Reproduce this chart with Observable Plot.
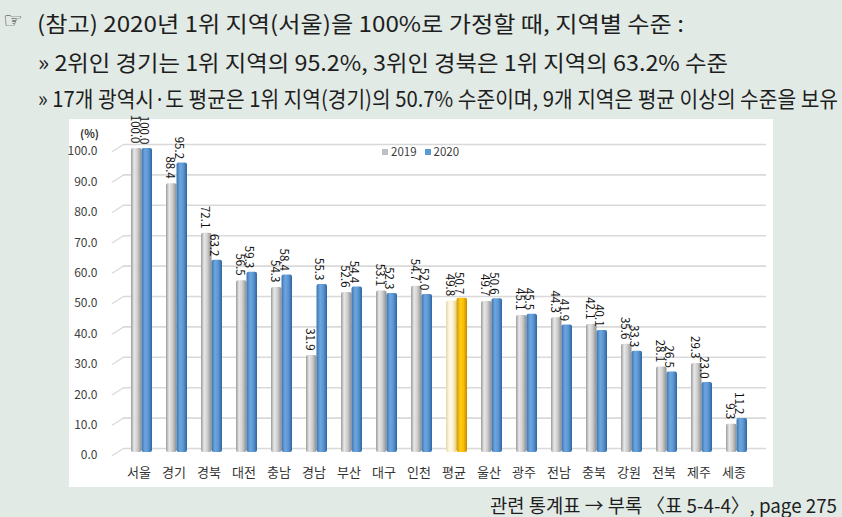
<!DOCTYPE html>
<html><head><meta charset="utf-8">
<script src="https://cdn.jsdelivr.net/npm/d3@7"></script>
<script src="https://cdn.jsdelivr.net/npm/@observablehq/plot@0.6"></script>
<style>
html,body{margin:0;padding:0;}
body{background:#e2eae5;width:842px;height:517px;overflow:hidden;position:relative;font-family:"Noto Sans CJK KR","Noto Sans",sans-serif;}
.line{position:absolute;white-space:nowrap;font-size:22px;line-height:26px;height:26px;color:#1e1e1e;transform-origin:0 50%;}
.hand{position:absolute;left:3px;top:8px;font-family:"DejaVu Sans";font-size:22px;line-height:26px;color:#333;}
#panel{position:absolute;left:69px;top:119px;width:704px;height:368px;background:#fff;}
#chart{position:absolute;left:0;top:0;}
#legend{position:absolute;left:382px;top:143px;font-size:11.5px;line-height:16px;color:#404040;white-space:nowrap;}
#legend span.sw{display:inline-block;width:6px;height:6px;margin-right:3px;vertical-align:1px;}
#legend span.item{margin-right:8px;}
</style></head>
<body>
<div class="hand">☞</div>
<div class="line" id="l1" data-x0="37" data-x1="684" style="left:37px;top:9px;">(참고) 2020년 1위 지역(서울)을 100%로 가정할 때, 지역별 수준 :</div>
<div class="line" id="l2" data-x0="38" data-x1="728" style="left:38px;top:48px;">» 2위인 경기는 1위 지역의 95.2%, 3위인 경북은 1위 지역의 63.2% 수준</div>
<div class="line" id="l3" data-x0="38" data-x1="838" style="left:38px;top:84px;">» 17개 광역시·도 평균은 1위 지역(경기)의 50.7% 수준이며, 9개 지역은 평균 이상의 수준을 보유</div>
<div id="panel"><div id="chart"></div></div>
<div id="legend"></div>
<div class="line" id="foot" data-x0="490" data-x1="837" style="left:490px;top:492px;font-size:19px;">관련 통계표 → 부록 〈표 5-4-4〉, page 275</div>
<script>
const regions = ["서울","경기","경북","대전","충남","경남","부산","대구","인천","평균","울산","광주","전남","충북","강원","전북","제주","세종"];
const values2019 = [100.0,88.4,72.1,56.5,54.3,31.9,52.6,53.1,54.7,49.8,49.7,45.1,44.3,42.1,35.6,28.1,29.3,9.3];
const values2020 = [100.0,95.2,63.2,59.3,58.4,55.3,54.4,52.3,52.0,50.7,50.6,45.5,41.9,40.1,33.3,26.5,23.0,11.2];
const yTicks = [0,10,20,30,40,50,60,70,80,90,100];
const seriesNames = ["2019","2020"];
const avgRegion = "평균";
const yUnit = "(%)";

const table = regions.map((r,i)=>({region:r, v2019:values2019[i], v2020:values2020[i]}));
const regular = table.filter(d=>d.region!==avgRegion);
const average = table.filter(d=>d.region===avgRegion);
const fontFam = '"Noto Sans CJK KR","Noto Sans",sans-serif';

const chart = Plot.plot({
  width: 704, height: 368,
  marginLeft: 48, marginRight: 12, marginTop: 29, marginBottom: 35,
  style: {fontFamily: fontFam, background: "transparent", overflow: "visible"},
  x: {domain: regions, paddingInner: 0.413, paddingOuter: 0.2065, label: null},
  y: {domain: [0,100], axis: null},
  marks: [
    Plot.ruleY(yTicks, {y: d=>d, stroke: "#d9d9d9", strokeWidth: 1.6, dy: -4, insetLeft: 6, insetRight: -5}),
    Plot.vector(yTicks, {y: d=>d, frameAnchor: "left", dx: -5, dy: 3, length: 13, rotate: 57.5, anchor: "start",
      stroke: "#d9d9d9", strokeWidth: 1.2,
      shape: {draw(context, l) { context.moveTo(0,0); context.lineTo(0,-l); }}}),
    Plot.text(yTicks, {y: d=>d, text: d=>d.toFixed(1), frameAnchor: "left", textAnchor: "end", dx: -20, dy: 3, fontSize: 12, fill: "#404040"}),
    Plot.text([yUnit], {text: d=>d, frameAnchor: "top-left", dx: -28, dy: -18, fontSize: 11, fontWeight: "bold", fill: "#333", textAnchor: "middle"}),
    Plot.barY(regular, {x: "region", y: "v2019", fill: "url(#gGray)", insetRight: 10.5, rx: 2}),
    Plot.barY(average, {x: "region", y: "v2019", fill: "url(#gCream)", insetRight: 10.5, rx: 2}),
    Plot.barY(regular, {x: "region", y: "v2020", fill: "url(#gBlue)", insetLeft: 10.5, rx: 2}),
    Plot.barY(average, {x: "region", y: "v2020", fill: "url(#gGold)", insetLeft: 10.5, rx: 2}),
    Plot.text(table, {x: "region", y: "v2019", text: d=>d.v2019.toFixed(1), rotate: 90, textAnchor: "end", dx: -7.5, dy: -5, fontSize: 11.5, fill: "#111"}),
    Plot.text(table, {x: "region", y: "v2020", text: d=>d.v2020.toFixed(1), rotate: 90, textAnchor: "end", dx: 2, dy: -4, fontSize: 11.5, fill: "#111"}),
    Plot.axisX({tickSize: 0, tickPadding: 15, fontSize: 13, color: "#333", dx: -3})
  ]
});
chart.insertAdjacentHTML("afterbegin", `<defs>
<linearGradient id="gGray" x1="0" x2="1" y1="0" y2="0">
<stop offset="0" stop-color="#9a9a9a"/><stop offset="0.3" stop-color="#e8e8e8"/><stop offset="0.6" stop-color="#cfcfcf"/><stop offset="1" stop-color="#8e8e8e"/></linearGradient>
<linearGradient id="gBlue" x1="0" x2="1" y1="0" y2="0">
<stop offset="0" stop-color="#3d74b0"/><stop offset="0.35" stop-color="#6ea6de"/><stop offset="0.65" stop-color="#5b96d2"/><stop offset="1" stop-color="#2f64a0"/></linearGradient>
<linearGradient id="gCream" x1="0" x2="1" y1="0" y2="0">
<stop offset="0" stop-color="#e6d8a6"/><stop offset="0.35" stop-color="#fffbe8"/><stop offset="0.65" stop-color="#fff3cc"/><stop offset="1" stop-color="#dccb92"/></linearGradient>
<linearGradient id="gGold" x1="0" x2="1" y1="0" y2="0">
<stop offset="0" stop-color="#cf9600"/><stop offset="0.35" stop-color="#ffcc1a"/><stop offset="0.65" stop-color="#ffc000"/><stop offset="1" stop-color="#c08a00"/></linearGradient>
</defs>`);
document.getElementById("chart").appendChild(chart);

const legendColors = ["#c0c0c0", "#5b9bd5"];
document.getElementById("legend").innerHTML = seriesNames.map((s,i)=>
  `<span class="item"><span class="sw" style="background:${legendColors[i]}"></span>${s}</span>`).join("");

function fitLines(){
  document.querySelectorAll(".line").forEach(el=>{
    el.style.transform = "none";
    const w = el.getBoundingClientRect().width;
    const target = +el.dataset.x1 - +el.dataset.x0;
    el.style.transform = `scaleX(${target/w})`;
  });
}
fitLines();
if (document.fonts && document.fonts.ready) document.fonts.ready.then(fitLines);
</script>
</body></html>
